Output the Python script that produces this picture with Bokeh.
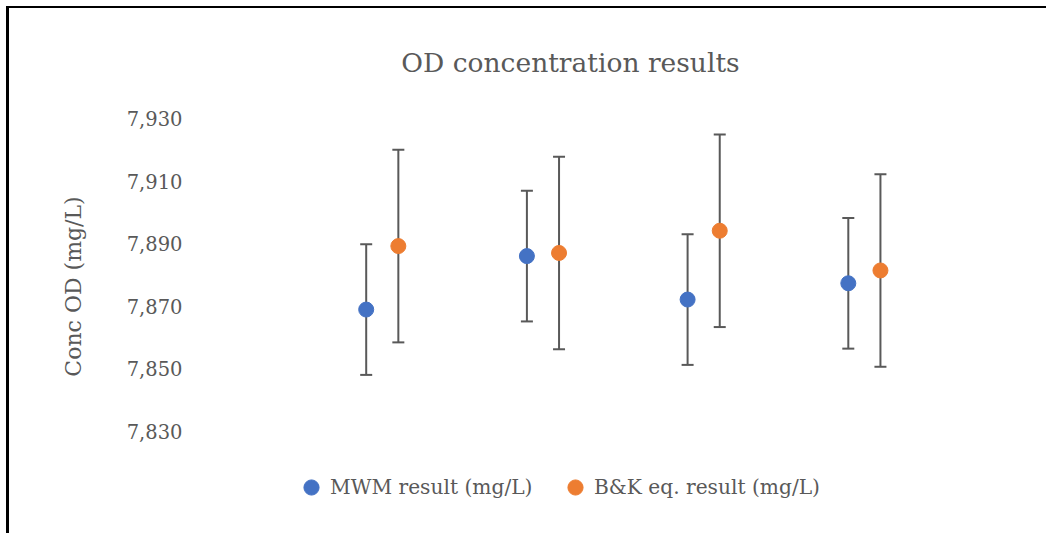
from bokeh.plotting import figure
from bokeh.models import (ColumnDataSource, Whisker, TeeHead, Legend, LegendItem,
                          FixedTicker, NumeralTickFormatter, Label)
from bokeh.transform import dodge
from bokeh.embed import file_html
from bokeh.resources import INLINE

# ---------------- data ----------------
categories = [1, 2, 3, 4]
mwm = [7869.0, 7886.1, 7872.2, 7877.4]
mwm_err = [20.9, 20.9, 20.9, 20.9]
bk = [7889.3, 7887.1, 7894.2, 7881.5]
bk_err = [30.8, 30.8, 30.8, 30.8]
y_ticks = [7830, 7850, 7870, 7890, 7910, 7930]
series_names = ["MWM result (mg/L)", "B&K eq. result (mg/L)"]
title_text = "OD concentration results"
y_label = "Conc OD (mg/L)"

# ---------------- layout (page pixels) ----------------
FONT = "DejaVu Serif"
GREY = "#595959"
OX, OY = 9, 8              # page position of the figure content (after margin + border)
W, H = 1040, 527
FL, FR, FT, FB = 200, 1040, 40, 532   # frame edges on page
X1_PX, X_SCALE = 365.7, 160.7         # page x of category 1, px per category
YTOP_PX, Y_SCALE = 118.3, 3.127       # page y of top tick, px per unit

top_tick = y_ticks[-1]
x_start = categories[0] + (FL - X1_PX) / X_SCALE
x_end = categories[0] + (FR - X1_PX) / X_SCALE
y_end = top_tick + (YTOP_PX - FT) / Y_SCALE
y_start = top_tick - (FB - YTOP_PX) / Y_SCALE

def px_to_x(px):
    return categories[0] + (px - X1_PX) / X_SCALE

def py_to_y(py):
    return top_tick + (YTOP_PX - py) / Y_SCALE

src = ColumnDataSource(dict(
    x=categories,
    mwm=mwm, mwm_up=[v + e for v, e in zip(mwm, mwm_err)], mwm_lo=[v - e for v, e in zip(mwm, mwm_err)],
    bk=bk, bk_up=[v + e for v, e in zip(bk, bk_err)], bk_lo=[v - e for v, e in zip(bk, bk_err)],
))

p = figure(width=W, height=H, x_range=(x_start, x_end), y_range=(y_start, y_end),
           output_backend="svg", toolbar_location=None, x_axis_location=None,
           min_border_left=FL - OX, min_border_right=OX + W - FR,
           min_border_top=FT - OY, min_border_bottom=OY + H - FB)
p.styles = {"margin-left": "6px", "margin-top": "6px",
            "border-left": "3px solid black", "border-top": "2px solid black"}
p.outline_line_color = None
p.background_fill_color = "white"
p.border_fill_color = "white"
p.xgrid.visible = False
p.ygrid.visible = False

ax = p.yaxis[0]
ax.ticker = FixedTicker(ticks=y_ticks)
ax.formatter = NumeralTickFormatter(format="0,0")
ax.axis_line_color = None
ax.major_tick_line_color = None
ax.minor_tick_line_color = None
ax.major_tick_out = 0
ax.major_tick_in = 0
ax.major_label_standoff = 18
ax.major_label_text_font = FONT
ax.major_label_text_font_size = "19.5px"
ax.major_label_text_color = GREY
ax.axis_label = y_label
ax.axis_label_text_font = FONT
ax.axis_label_text_font_size = "22px"
ax.axis_label_text_font_style = "normal"
ax.axis_label_text_color = GREY
ax.axis_label_standoff = 38

OFFSET = 0.2
for col, off in (("mwm", 0.0), ("bk", OFFSET)):
    w = Whisker(source=src, base=dodge("x", off), upper=col + "_up", lower=col + "_lo",
                dimension="height", line_color=GREY, line_width=2,
                upper_head=TeeHead(size=12, line_color=GREY, line_width=2),
                lower_head=TeeHead(size=12, line_color=GREY, line_width=2))
    p.add_layout(w)

r1 = p.scatter(x=dodge("x", 0.0), y="mwm", source=src, size=15,
               fill_color="#4472C4", line_color="#4472C4")
r2 = p.scatter(x=dodge("x", OFFSET), y="bk", source=src, size=15,
               fill_color="#ED7D31", line_color="#ED7D31")

title = Label(x=px_to_x(570), y=py_to_y(62), text=title_text, text_align="center",
              text_baseline="middle", text_font=FONT, text_font_size="26.5px",
              text_color=GREY)
p.add_layout(title)

GL = 38
for rend, name, cx in ((r1, series_names[0], 311), (r2, series_names[1], 575)):
    leg = Legend(items=[LegendItem(label=name, renderers=[rend])],
                 location=(cx - GL / 2 - FL, FB - (487 + GL / 2)),
                 orientation="horizontal", glyph_width=GL, glyph_height=GL,
                 label_standoff=0, label_height=GL, padding=0, margin=0, spacing=0,
                 border_line_color=None, background_fill_alpha=0,
                 label_text_font=FONT, label_text_font_size="20.2px",
                 label_text_color=GREY)
    p.add_layout(leg)

open("out.html", "w").write(file_html(p, INLINE))
